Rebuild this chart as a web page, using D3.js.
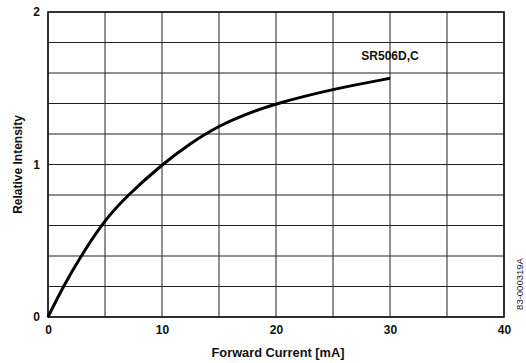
<!DOCTYPE html>
<html>
<head>
<meta charset="utf-8">
<script src="https://cdn.jsdelivr.net/npm/d3@7"></script>
<style>
  body { margin: 0; background: #fff; }
  svg { font-family: "Liberation Sans", Arial, sans-serif; }
</style>
</head>
<body>
<div id="chart"></div>
<script>
"use strict";

// forward current (mA) vs relative intensity
const currents = [0, 1.34, 2.8, 5, 7, 10, 12.5, 15, 17.5, 20, 25, 30];
const intensity = [0, 0.2, 0.39, 0.64, 0.8, 1.0, 1.14, 1.255, 1.335, 1.40, 1.495, 1.565];
const xTicks = [0, 10, 20, 30, 40];
const yTicks = [0, 1, 2];
const seriesLabel = "SR506D,C";

const svgWidth = 526;
const svgHeight = 363;
const margin = { left: 48, right: 22, top: 12, bottom: 46 };

const svg = d3.select("#chart")
  .append("svg")
  .attr("width", svgWidth)
  .attr("height", svgHeight)
;

const xScale = d3.scaleLinear()
  .domain([0, 40])
  .range([margin.left, svgWidth - margin.right]);
const yScale = d3.scaleLinear()
  .domain([0, 2])
  .range([svgHeight - margin.bottom, margin.top]);

// grid: every 5 mA and every 0.2
const grid = svg.append("g").attr("stroke", "#222").attr("stroke-width", 1);
grid.selectAll("line.v")
  .data(d3.range(0, 40.01, 5))
  .enter().append("line")
  .attr("x1", d => xScale(d)).attr("x2", d => xScale(d))
  .attr("y1", yScale(0)).attr("y2", yScale(2));
grid.selectAll("line.h")
  .data(d3.range(0, 10.01, 1).map(i => i * 0.2))
  .enter().append("line")
  .attr("x1", xScale(0)).attr("x2", xScale(40))
  .attr("y1", d => yScale(d)).attr("y2", d => yScale(d));

// frame
svg.append("rect")
  .attr("x", xScale(0)).attr("y", yScale(2))
  .attr("width", xScale(40) - xScale(0))
  .attr("height", yScale(0) - yScale(2))
  .attr("fill", "none").attr("stroke", "#111").attr("stroke-width", 1.5);

const xAxis = d3.axisBottom(xScale).tickValues(xTicks).tickSize(0).tickPadding(8).tickFormat(d3.format("d"));
const yAxis = d3.axisLeft(yScale).tickValues(yTicks).tickSize(0).tickPadding(8).tickFormat(d3.format("d"));

svg.append("g")
  .attr("transform", `translate(0, ${yScale(0)})`)
  .call(xAxis)
  .call(g => g.select(".domain").remove())
  .selectAll("text")
  .attr("font-size", 12).attr("font-weight", "bold").attr("fill", "#111")
  .attr("font-family", "Liberation Sans, Arial, sans-serif");

svg.append("g")
  .attr("transform", `translate(${xScale(0)}, 0)`)
  .call(yAxis)
  .call(g => g.select(".domain").remove())
  .selectAll("text")
  .attr("font-size", 12).attr("font-weight", "bold").attr("fill", "#111")
  .attr("font-family", "Liberation Sans, Arial, sans-serif");

const line = d3.line()
  .x((d, i) => xScale(currents[i]))
  .y(d => yScale(d))
  .curve(d3.curveBasis);

svg.append("path")
  .datum(intensity)
  .attr("d", line)
  .attr("fill", "none")
  .attr("stroke", "#000")
  .attr("stroke-width", 3);

svg.append("text")
  .attr("x", xScale(30))
  .attr("y", yScale(1.685))
  .attr("text-anchor", "middle")
  .attr("font-size", 12).attr("font-weight", "bold").attr("fill", "#111")
  .text(seriesLabel);

svg.append("text")
  .attr("x", (xScale(0) + xScale(40)) / 2 + 2)
  .attr("y", 357)
  .attr("text-anchor", "middle")
  .attr("font-size", 12.8).attr("font-weight", "bold").attr("fill", "#111")
  .text("Forward Current [mA]");

svg.append("text")
  .attr("transform", `translate(22, ${yScale(1)}) rotate(-90)`)
  .attr("text-anchor", "middle")
  .attr("font-size", 12).attr("font-weight", "bold").attr("fill", "#111")
  .text("Relative Intensity");

svg.append("text")
  .attr("transform", `translate(523, 284) rotate(-90)`)
  .attr("text-anchor", "middle")
  .attr("font-size", 9.5).attr("fill", "#222")
  .text("83-000319A");
</script>
</body>
</html>
